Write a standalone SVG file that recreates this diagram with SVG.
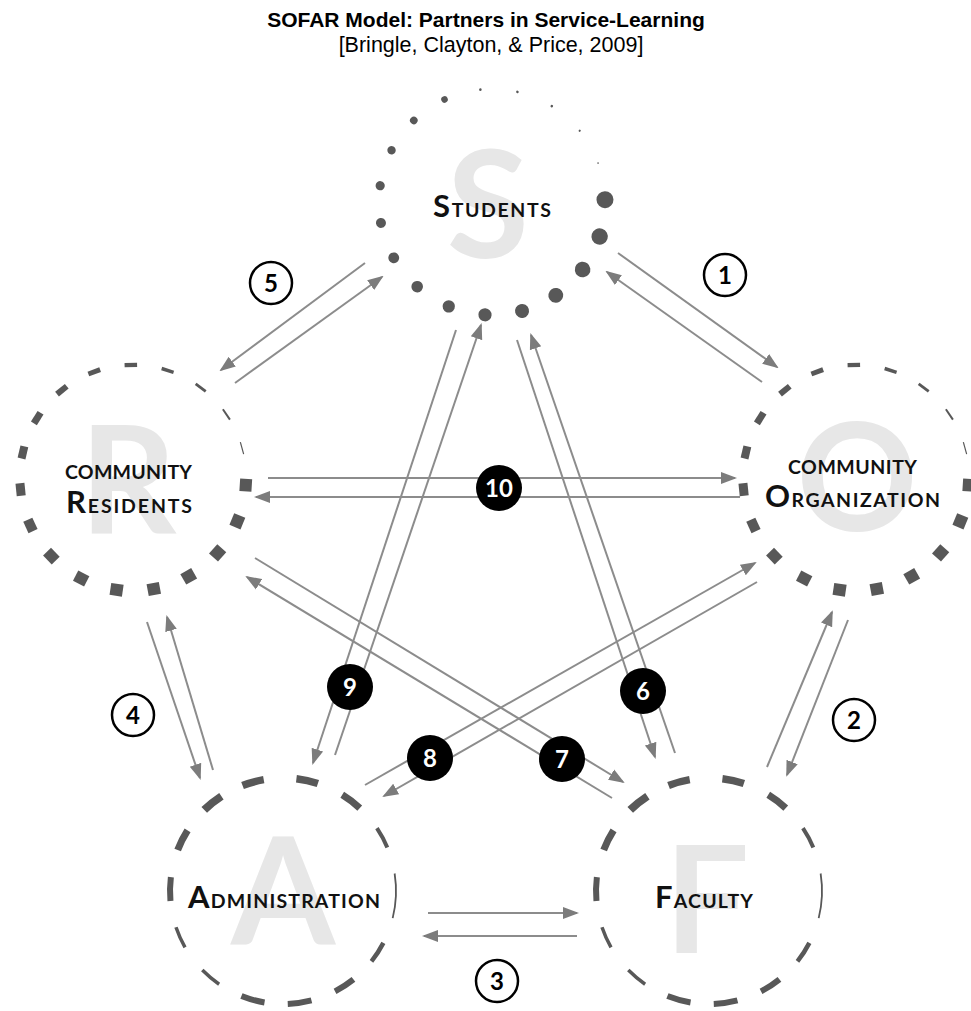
<svg xmlns="http://www.w3.org/2000/svg" xmlns:xlink="http://www.w3.org/1999/xlink" width="971" height="1011" viewBox="0 0 971 1011">
<style>
.title{font-family:"Liberation Sans",Arial,sans-serif;font-weight:bold;font-size:21px;fill:#000}
.sub{font-family:"Liberation Sans",Arial,sans-serif;font-size:21.5px;fill:#000}
.bg{font-family:Lato,"Noto Sans",sans-serif;font-weight:bold;font-size:150px;fill:#e7e7e7;text-anchor:middle}
.lbl{font-family:Lato,"Noto Sans",sans-serif;font-weight:bold;font-size:19.5px;fill:#111}
.big{font-size:31px}
.ring{fill:#585858}
.dash{fill:none;stroke:#585858}
.conn line{stroke:#8c8c8c;stroke-width:2;marker-end:url(#ah)}
.open circle{fill:#fff;stroke:#000;stroke-width:2.5}
.open text{font-family:Lato,"Noto Sans",sans-serif;font-weight:bold;font-size:24px;fill:#000;text-anchor:middle}
.solid circle{fill:#000}
.solid text{font-family:Lato,"Noto Sans",sans-serif;font-weight:bold;font-size:24px;fill:#fff;text-anchor:middle}
</style>
<defs>
<marker id="ah" markerUnits="userSpaceOnUse" markerWidth="16" markerHeight="14" viewBox="0 0 16 14" refX="14" refY="7" orient="auto">
<path d="M0,1 L16,7 L0,13 Z" fill="#7c7c7c"/>
</marker>
<path id="d22" d="M112.46,-10.98 A113,113 0 0 1 112.46,10.98"/>
<path id="d24" d="M112.36,-11.98 A113,113 0 0 1 112.36,11.98"/>
<path id="d45" d="M110.77,-22.34 A113,113 0 0 1 110.77,22.34"/>
<g id="ringDots" class="ring">
<circle transform="rotate(-77)" cx="113" cy="0" r="1.3"/>
<circle transform="rotate(-58.05)" cx="113" cy="0" r="1.3"/>
<circle transform="rotate(-39.1)" cx="113" cy="0" r="1.1"/>
<circle transform="rotate(-20.15)" cx="113" cy="0" r="0.8"/>
<circle transform="rotate(-1.2)" cx="113" cy="0" r="8.5"/>
<circle transform="rotate(17.75)" cx="113" cy="0" r="8.2"/>
<circle transform="rotate(36.7)" cx="113" cy="0" r="7.8"/>
<circle transform="rotate(55.65)" cx="113" cy="0" r="7.4"/>
<circle transform="rotate(74.6)" cx="113" cy="0" r="7"/>
<circle transform="rotate(93.55)" cx="113" cy="0" r="6.6"/>
<circle transform="rotate(112.5)" cx="113" cy="0" r="6.2"/>
<circle transform="rotate(131.45)" cx="113" cy="0" r="5.8"/>
<circle transform="rotate(150.4)" cx="113" cy="0" r="5.4"/>
<circle transform="rotate(169.35)" cx="113" cy="0" r="5"/>
<circle transform="rotate(188.3)" cx="113" cy="0" r="4.6"/>
<circle transform="rotate(207.25)" cx="113" cy="0" r="4.2"/>
<circle transform="rotate(226.2)" cx="113" cy="0" r="3.8"/>
<circle transform="rotate(245.15)" cx="113" cy="0" r="3.3"/>
<circle transform="rotate(264.1)" cx="113" cy="0" r="1.3"/>
</g>
<g id="ringSq" class="ring">
<rect transform="rotate(3.6)" x="107" y="-6.25" width="12" height="12.5"/>
<rect transform="rotate(22.55)" x="107" y="-6.25" width="12" height="12.5"/>
<rect transform="rotate(41.5)" x="107" y="-6.25" width="12" height="12.5"/>
<rect transform="rotate(60.45)" x="107" y="-6.25" width="12" height="12.5"/>
<rect transform="rotate(79.4)" x="107" y="-6.25" width="12" height="12.5"/>
<rect transform="rotate(98.35)" x="107" y="-6.25" width="12" height="12.5"/>
<rect transform="rotate(117.3)" x="107.25" y="-6.25" width="11.5" height="12.5"/>
<rect transform="rotate(136.25)" x="107.5" y="-6.25" width="11" height="12.5"/>
<rect transform="rotate(155.2)" x="108" y="-6.25" width="10" height="12.5"/>
<rect transform="rotate(174.15)" x="108.5" y="-6.25" width="9" height="12.5"/>
<rect transform="rotate(193.1)" x="109" y="-6.25" width="8" height="12.5"/>
<rect transform="rotate(212.05)" x="109.5" y="-6.25" width="7" height="12.5"/>
<rect transform="rotate(231)" x="110" y="-6.25" width="6" height="12.5"/>
<rect transform="rotate(249.95)" x="110.5" y="-6.25" width="5" height="12.5"/>
<rect transform="rotate(268.9)" x="110.85" y="-6.25" width="4.3" height="12.5"/>
<rect transform="rotate(287.85)" x="111.25" y="-6.25" width="3.5" height="12.5"/>
<rect transform="rotate(306.8)" x="111.6" y="-6.25" width="2.8" height="12.5"/>
<rect transform="rotate(325.75)" x="112" y="-6.25" width="2" height="12.5"/>
<rect transform="rotate(344.7)" x="112.4" y="-6.25" width="1.2" height="12.5"/>
</g>
<g id="ringDash" class="dash">
<use xlink:href="#d22" href="#d22" transform="rotate(254.6)" stroke-width="7.5"/>
<use xlink:href="#d22" href="#d22" transform="rotate(282.4)" stroke-width="7.5"/>
<use xlink:href="#d22" href="#d22" transform="rotate(307.2)" stroke-width="7"/>
<use xlink:href="#d22" href="#d22" transform="rotate(331.8)" stroke-width="4"/>
<use xlink:href="#d45" href="#d45" transform="rotate(2.5)" stroke-width="1.8"/>
<use xlink:href="#d22" href="#d22" transform="rotate(32.9)" stroke-width="4.5"/>
<use xlink:href="#d22" href="#d22" transform="rotate(57)" stroke-width="6"/>
<use xlink:href="#d24" href="#d24" transform="rotate(81.5)" stroke-width="6"/>
<use xlink:href="#d24" href="#d24" transform="rotate(105.5)" stroke-width="6"/>
<use xlink:href="#d22" href="#d22" transform="rotate(130)" stroke-width="3.5"/>
<use xlink:href="#d22" href="#d22" transform="rotate(155.7)" stroke-width="3.5"/>
<use xlink:href="#d24" href="#d24" transform="rotate(181)" stroke-width="6"/>
<use xlink:href="#d22" href="#d22" transform="rotate(206.8)" stroke-width="7"/>
<use xlink:href="#d22" href="#d22" transform="rotate(231.4)" stroke-width="8"/>
</g>
</defs>
<rect width="971" height="1011" fill="#fff"/>
<g id="title">
<text class="title" x="486" y="27" text-anchor="middle">SOFAR Model: Partners in Service-Learning</text>
<text class="sub" x="491" y="52" text-anchor="middle">[Bringle, Clayton, &amp; Price, 2009]</text>
</g>
<g id="node-students">
<text class="bg" x="488" y="258">S</text>
<use xlink:href="#ringDots" href="#ringDots" transform="translate(492,202)"/>
<text class="lbl" x="433" y="217" textLength="118" lengthAdjust="spacing"><tspan class="big">S</tspan>TUDENTS</text>
</g>
<g id="node-residents">
<text class="bg" x="128" y="533">R</text>
<use xlink:href="#ringSq" href="#ringSq" transform="translate(133,478)"/>
<text class="lbl" x="65" y="479" textLength="127" lengthAdjust="spacing">COMMUNITY</text>
<text class="lbl" x="66" y="513" textLength="126" lengthAdjust="spacing"><tspan class="big">R</tspan>ESIDENTS</text>
</g>
<g id="node-organization">
<text class="bg" x="857" y="531">O</text>
<use xlink:href="#ringSq" href="#ringSq" transform="translate(856,478)"/>
<text class="lbl" x="788" y="474" textLength="129" lengthAdjust="spacing">COMMUNITY</text>
<text class="lbl" x="765" y="507" textLength="175" lengthAdjust="spacing"><tspan class="big">O</tspan>RGANIZATION</text>
</g>
<g id="node-administration">
<text class="bg" x="283" y="945">A</text>
<use xlink:href="#ringDash" href="#ringDash" transform="translate(283,891)"/>
<text class="lbl" x="188" y="908" textLength="192" lengthAdjust="spacing"><tspan class="big">A</tspan>DMINISTRATION</text>
</g>
<g id="node-faculty">
<text class="bg" x="707" y="953">F</text>
<use xlink:href="#ringDash" href="#ringDash" transform="translate(709,891)"/>
<text class="lbl" x="655" y="908" textLength="98" lengthAdjust="spacing"><tspan class="big">F</tspan>ACULTY</text>
</g>
<g id="connectors" class="conn">
<line x1="618" y1="253" x2="777" y2="367"/>
<line x1="762" y1="382" x2="607" y2="272"/>
<line x1="767" y1="767" x2="832" y2="612"/>
<line x1="848" y1="620" x2="787" y2="775"/>
<line x1="428" y1="913" x2="577" y2="913"/>
<line x1="577" y1="936" x2="424" y2="936"/>
<line x1="147" y1="622" x2="200" y2="778"/>
<line x1="213" y1="770" x2="167" y2="617"/>
<line x1="365" y1="263" x2="221" y2="370"/>
<line x1="235" y1="383" x2="382" y2="277"/>
<line x1="517" y1="340" x2="655" y2="757"/>
<line x1="675" y1="753" x2="531" y2="335"/>
<line x1="255" y1="558" x2="623" y2="782"/>
<line x1="612" y1="798" x2="247" y2="577"/>
<line x1="365" y1="785" x2="755" y2="563"/>
<line x1="757" y1="582" x2="384" y2="796"/>
<line x1="456" y1="330" x2="313" y2="763"/>
<line x1="335" y1="755" x2="481" y2="325"/>
<line x1="268" y1="478" x2="735" y2="478"/>
<line x1="740" y1="497" x2="256" y2="497"/>
</g>
<g id="label-1" class="open"><circle cx="725" cy="275" r="21"/><text x="725" y="284">1</text></g>
<g id="label-2" class="open"><circle cx="854" cy="720" r="21"/><text x="854" y="729">2</text></g>
<g id="label-3" class="open"><circle cx="497" cy="981" r="21"/><text x="497" y="990">3</text></g>
<g id="label-4" class="open"><circle cx="133" cy="715" r="21"/><text x="133" y="724">4</text></g>
<g id="label-5" class="open"><circle cx="271" cy="283" r="21"/><text x="271" y="292">5</text></g>
<g id="label-6" class="solid"><circle cx="643" cy="691" r="23"/><text x="643" y="700">6</text></g>
<g id="label-7" class="solid"><circle cx="562" cy="759" r="23"/><text x="562" y="768">7</text></g>
<g id="label-8" class="solid"><circle cx="430" cy="758" r="23"/><text x="430" y="767">8</text></g>
<g id="label-9" class="solid"><circle cx="350" cy="687" r="23"/><text x="350" y="696">9</text></g>
<g id="label-10" class="solid"><circle cx="499" cy="488" r="23"/><text x="499" y="497">10</text></g>
</svg>
